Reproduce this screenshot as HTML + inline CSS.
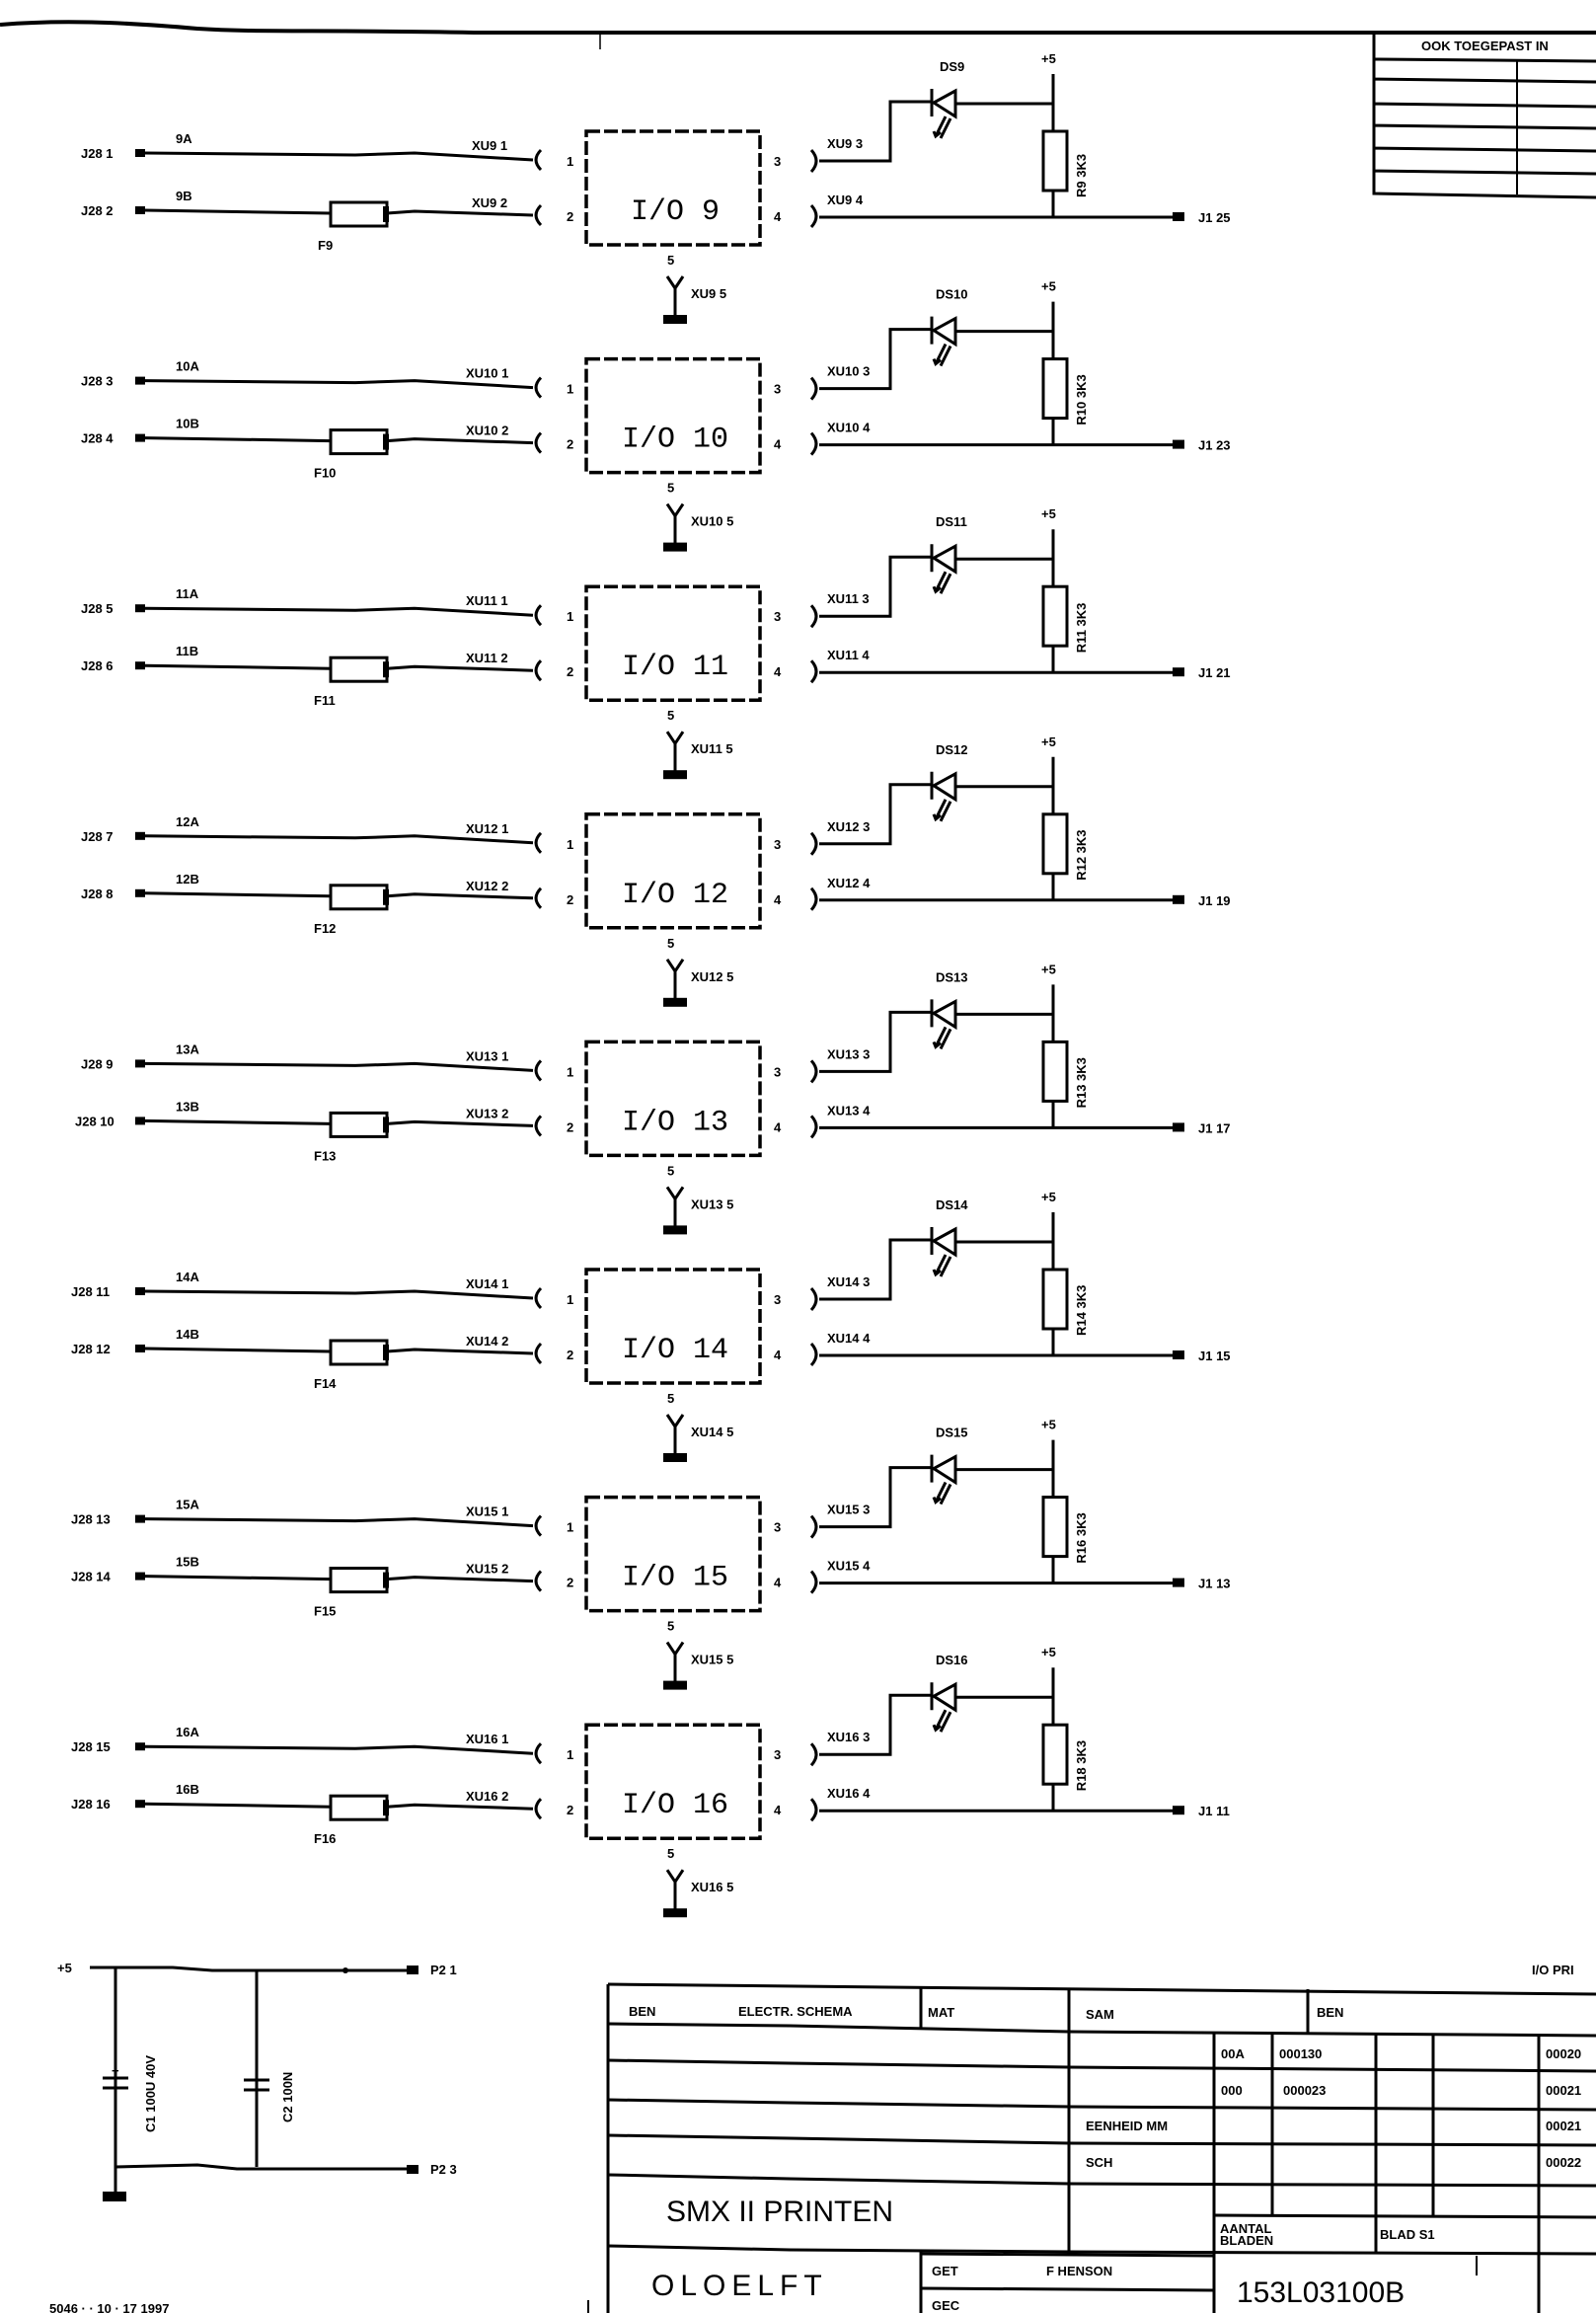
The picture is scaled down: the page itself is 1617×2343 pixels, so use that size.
<!DOCTYPE html>
<html><head><meta charset="utf-8"><style>
html,body{margin:0;padding:0;background:#fff}
svg{display:block}
text{font-family:"Liberation Sans Narrow","Liberation Sans",sans-serif;font-weight:bold;font-size:13px;fill:#000}
.big{font-family:"Liberation Mono",monospace;font-weight:normal;font-size:30px}
.tb{font-family:"Liberation Sans",sans-serif;font-weight:normal;font-size:30px}
</style></head><body>
<svg width="1617" height="2343" viewBox="0 0 1617 2343" xmlns="http://www.w3.org/2000/svg">
<defs>
<g id="blk" fill="none" stroke="#000" stroke-width="3">
 <rect x="137" y="151" width="10" height="8" fill="#000" stroke="none"/>
 <path d="M147,155 L360,157 L420,155 L540,162"/>
 <rect x="137" y="209" width="10" height="8" fill="#000" stroke="none"/>
 <path d="M147,213 L335,216 M392,216 L420,214 L540,218"/>
 <rect x="335" y="205" width="57" height="24"/>
 <path d="M391,209 L391,225" stroke-width="6"/>
 <path d="M548,152 Q538,162 548,172 M548,208 Q538,218 548,228"/>
 <rect x="594" y="133" width="176" height="115" stroke-dasharray="14 4" stroke-width="3.5"/>
 <path d="M822,152 Q832,163 822,174 M822,208 Q832,219 822,230"/>
 <path d="M830,163 L902,163 L902,103 L944,103 M968,105 L1067,105"/>
 <path d="M944,90 L944,118 M968,92 L946,104 L968,118 Z"/>
 <path d="M958,118 L948,138 M963,120 L953,140 M946,133 L948,138 L953,134"/>
 <path d="M1067,75 L1067,133 M1067,193 L1067,220"/>
 <rect x="1057" y="133" width="24" height="60"/>
 <path d="M830,220 L1190,220"/>
 <rect x="1188" y="215" width="12" height="9" fill="#000" stroke="none"/>
 <path d="M676,280 L684,292 L692,280 M684,292 L684,320"/>
 <rect x="672" y="319" width="24" height="9" fill="#000" stroke="none"/>
</g>
</defs>
<path d="M0,25 C60,20 120,22 200,29 C260,33 320,30 480,33 L1617,33" fill="none" stroke="#000" stroke-width="4"/>
<line x1="608" y1="33" x2="608" y2="50" stroke="#000" stroke-width="1.5"/>
<!-- top-right table -->
<g fill="none" stroke="#000" stroke-width="3">
<path d="M1392,33 L1392,196 L1617,200 M1392,60 L1617,62 M1392,80 L1617,83 M1392,105 L1617,108 M1392,127 L1617,130 M1392,150 L1617,153 M1392,173 L1617,176"/>
<path d="M1537,60 L1537,197" stroke-width="2"/>
</g>
<text x="1440" y="51" font-size="12">OOK TOEGEPAST IN</text>
<text x="50" y="2343" font-size="11" font-weight="normal">5046 · · 10 · 17 1997</text>

<!-- blocks -->
<g>
<use href="#blk"/>
<text x="82" y="160">J28 1</text><text x="82" y="218">J28 2</text>
<text x="178" y="145">9A</text><text x="178" y="203">9B</text>
<text x="322" y="253">F9</text>
<text x="478" y="152">XU9 1</text><text x="478" y="210">XU9 2</text>
<text x="574" y="168">1</text><text x="574" y="224">2</text>
<text x="784" y="168">3</text><text x="784" y="224">4</text>
<text class="big" x="684" y="222" text-anchor="middle">I/O 9</text>
<text x="676" y="268">5</text>
<text x="700" y="302">XU9 5</text>
<text x="838" y="150">XU9 3</text><text x="838" y="207">XU9 4</text>
<text x="952" y="72">DS9</text><text x="1055" y="64">+5</text>
<text transform="translate(1100,200) rotate(-90)">R9 3K3</text>
<text x="1214" y="225">J1 25</text>
</g>
<g transform="translate(0,230.6)">
<use href="#blk"/>
<text x="82" y="160">J28 3</text><text x="82" y="218">J28 4</text>
<text x="178" y="145">10A</text><text x="178" y="203">10B</text>
<text x="318" y="253">F10</text>
<text x="472" y="152">XU10 1</text><text x="472" y="210">XU10 2</text>
<text x="574" y="168">1</text><text x="574" y="224">2</text>
<text x="784" y="168">3</text><text x="784" y="224">4</text>
<text class="big" x="684" y="222" text-anchor="middle">I/O 10</text>
<text x="676" y="268">5</text>
<text x="700" y="302">XU10 5</text>
<text x="838" y="150">XU10 3</text><text x="838" y="207">XU10 4</text>
<text x="948" y="72">DS10</text><text x="1055" y="64">+5</text>
<text transform="translate(1100,200) rotate(-90)">R10 3K3</text>
<text x="1214" y="225">J1 23</text>
</g>
<g transform="translate(0,461.2)">
<use href="#blk"/>
<text x="82" y="160">J28 5</text><text x="82" y="218">J28 6</text>
<text x="178" y="145">11A</text><text x="178" y="203">11B</text>
<text x="318" y="253">F11</text>
<text x="472" y="152">XU11 1</text><text x="472" y="210">XU11 2</text>
<text x="574" y="168">1</text><text x="574" y="224">2</text>
<text x="784" y="168">3</text><text x="784" y="224">4</text>
<text class="big" x="684" y="222" text-anchor="middle">I/O 11</text>
<text x="676" y="268">5</text>
<text x="700" y="302">XU11 5</text>
<text x="838" y="150">XU11 3</text><text x="838" y="207">XU11 4</text>
<text x="948" y="72">DS11</text><text x="1055" y="64">+5</text>
<text transform="translate(1100,200) rotate(-90)">R11 3K3</text>
<text x="1214" y="225">J1 21</text>
</g>
<g transform="translate(0,691.8)">
<use href="#blk"/>
<text x="82" y="160">J28 7</text><text x="82" y="218">J28 8</text>
<text x="178" y="145">12A</text><text x="178" y="203">12B</text>
<text x="318" y="253">F12</text>
<text x="472" y="152">XU12 1</text><text x="472" y="210">XU12 2</text>
<text x="574" y="168">1</text><text x="574" y="224">2</text>
<text x="784" y="168">3</text><text x="784" y="224">4</text>
<text class="big" x="684" y="222" text-anchor="middle">I/O 12</text>
<text x="676" y="268">5</text>
<text x="700" y="302">XU12 5</text>
<text x="838" y="150">XU12 3</text><text x="838" y="207">XU12 4</text>
<text x="948" y="72">DS12</text><text x="1055" y="64">+5</text>
<text transform="translate(1100,200) rotate(-90)">R12 3K3</text>
<text x="1214" y="225">J1 19</text>
</g>
<g transform="translate(0,922.4)">
<use href="#blk"/>
<text x="82" y="160">J28 9</text><text x="76" y="218">J28 10</text>
<text x="178" y="145">13A</text><text x="178" y="203">13B</text>
<text x="318" y="253">F13</text>
<text x="472" y="152">XU13 1</text><text x="472" y="210">XU13 2</text>
<text x="574" y="168">1</text><text x="574" y="224">2</text>
<text x="784" y="168">3</text><text x="784" y="224">4</text>
<text class="big" x="684" y="222" text-anchor="middle">I/O 13</text>
<text x="676" y="268">5</text>
<text x="700" y="302">XU13 5</text>
<text x="838" y="150">XU13 3</text><text x="838" y="207">XU13 4</text>
<text x="948" y="72">DS13</text><text x="1055" y="64">+5</text>
<text transform="translate(1100,200) rotate(-90)">R13 3K3</text>
<text x="1214" y="225">J1 17</text>
</g>
<g transform="translate(0,1153)">
<use href="#blk"/>
<text x="72" y="160">J28 11</text><text x="72" y="218">J28 12</text>
<text x="178" y="145">14A</text><text x="178" y="203">14B</text>
<text x="318" y="253">F14</text>
<text x="472" y="152">XU14 1</text><text x="472" y="210">XU14 2</text>
<text x="574" y="168">1</text><text x="574" y="224">2</text>
<text x="784" y="168">3</text><text x="784" y="224">4</text>
<text class="big" x="684" y="222" text-anchor="middle">I/O 14</text>
<text x="676" y="268">5</text>
<text x="700" y="302">XU14 5</text>
<text x="838" y="150">XU14 3</text><text x="838" y="207">XU14 4</text>
<text x="948" y="72">DS14</text><text x="1055" y="64">+5</text>
<text transform="translate(1100,200) rotate(-90)">R14 3K3</text>
<text x="1214" y="225">J1 15</text>
</g>
<g transform="translate(0,1383.6)">
<use href="#blk"/>
<text x="72" y="160">J28 13</text><text x="72" y="218">J28 14</text>
<text x="178" y="145">15A</text><text x="178" y="203">15B</text>
<text x="318" y="253">F15</text>
<text x="472" y="152">XU15 1</text><text x="472" y="210">XU15 2</text>
<text x="574" y="168">1</text><text x="574" y="224">2</text>
<text x="784" y="168">3</text><text x="784" y="224">4</text>
<text class="big" x="684" y="222" text-anchor="middle">I/O 15</text>
<text x="676" y="268">5</text>
<text x="700" y="302">XU15 5</text>
<text x="838" y="150">XU15 3</text><text x="838" y="207">XU15 4</text>
<text x="948" y="72">DS15</text><text x="1055" y="64">+5</text>
<text transform="translate(1100,200) rotate(-90)">R16 3K3</text>
<text x="1214" y="225">J1 13</text>
</g>
<g transform="translate(0,1614.2)">
<use href="#blk"/>
<text x="72" y="160">J28 15</text><text x="72" y="218">J28 16</text>
<text x="178" y="145">16A</text><text x="178" y="203">16B</text>
<text x="318" y="253">F16</text>
<text x="472" y="152">XU16 1</text><text x="472" y="210">XU16 2</text>
<text x="574" y="168">1</text><text x="574" y="224">2</text>
<text x="784" y="168">3</text><text x="784" y="224">4</text>
<text class="big" x="684" y="222" text-anchor="middle">I/O 16</text>
<text x="676" y="268">5</text>
<text x="700" y="302">XU16 5</text>
<text x="838" y="150">XU16 3</text><text x="838" y="207">XU16 4</text>
<text x="948" y="72">DS16</text><text x="1055" y="64">+5</text>
<text transform="translate(1100,200) rotate(-90)">R18 3K3</text>
<text x="1214" y="225">J1 11</text>
</g>

<!-- bottom-left caps -->
<g fill="none" stroke="#000" stroke-width="3">
<path d="M91,1993 L175,1993 L215,1996 L412,1996"/>
<path d="M117,1993 L117,2220 M260,1995 L260,2195"/>
<path d="M117,2195 L200,2193 L240,2197 L412,2197"/>
<path d="M104,2105 L130,2105 M104,2115 L130,2115 M247,2107 L273,2107 M247,2117 L273,2117" stroke-width="3"/>
</g>
<rect x="412" y="1991" width="12" height="9" fill="#000"/>
<rect x="412" y="2193" width="12" height="9" fill="#000"/>
<rect x="104" y="2220" width="24" height="10" fill="#000"/>
<circle cx="350" cy="1996" r="3" fill="#000"/>
<text x="58" y="1998">+5</text>
<text x="436" y="2000">P2 1</text>
<text x="436" y="2202">P2 3</text>
<text x="113" y="2102">+</text>
<text transform="translate(157,2160) rotate(-90)">C1 100U 40V</text>
<text transform="translate(296,2150) rotate(-90)">C2 100N</text>

<!-- title block -->
<g fill="none" stroke="#000" stroke-width="3">
<path d="M616,2010 L1000,2014 L1617,2020"/>
<path d="M616,2010 L616,2343"/>
<path d="M616,2050 L800,2052 L1083,2058 L1617,2062"/>
<path d="M616,2087 L800,2090 L1083,2094 L1617,2098"/>
<path d="M616,2127 L800,2130 L1083,2134 L1617,2137"/>
<path d="M616,2163 L800,2166 L1083,2171 L1617,2173"/>
<path d="M616,2203 L800,2207 L1083,2212 L1617,2214"/>
<path d="M616,2275 L800,2279 L1083,2281 L1617,2283"/>
<path d="M1230,2244 L1617,2246"/>
<path d="M933,2283 L1230,2285"/>
<path d="M933,2318 L1230,2320"/>
<path d="M933,2013 L933,2055 M933,2280 L933,2343"/>
<path d="M1083,2014 L1083,2281"/>
<path d="M1325,2015 L1325,2060"/>
<path d="M1230,2060 L1230,2343"/>
<path d="M1289,2060 L1289,2244"/>
<path d="M1394,2060 L1394,2282"/>
<path d="M1452,2060 L1452,2244"/>
<path d="M1559,2062 L1559,2343"/>
<path d="M1496,2285 L1496,2305 M596,2330 L596,2343" stroke-width="2"/>
</g>
<text x="637" y="2042">BEN</text>
<text x="748" y="2042">ELECTR. SCHEMA</text>
<text x="940" y="2043">MAT</text>
<text x="1100" y="2045">SAM</text>
<text x="1334" y="2043">BEN</text>
<text x="1237" y="2085">00A</text><text x="1296" y="2085">000130</text>
<text x="1237" y="2122">000</text><text x="1300" y="2122">000023</text>
<text x="1566" y="2085">00020</text><text x="1566" y="2122">00021</text>
<text x="1566" y="2158">00021</text><text x="1566" y="2195">00022</text>
<text x="1100" y="2158">EENHEID MM</text>
<text x="1100" y="2195">SCH</text>
<text class="tb" x="675" y="2250">SMX II PRINTEN</text>
<text font-size="9" x="1236" y="2262">AANTAL</text><text font-size="9" x="1236" y="2274">BLADEN</text>
<text x="1398" y="2268">BLAD S1</text>
<text class="tb" x="660" y="2325" letter-spacing="6">OLOELFT</text>
<text x="944" y="2305">GET</text><text x="1060" y="2305">F HENSON</text>
<text x="944" y="2340">GEC</text>
<text class="tb" x="1253" y="2332">153L03100B</text>
<text x="1552" y="2000">I/O PRI</text>
</svg>
</body></html>
